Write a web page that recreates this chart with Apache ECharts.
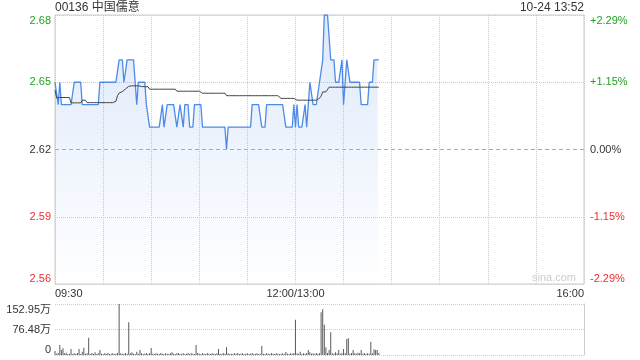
<!DOCTYPE html>
<html><head><meta charset="utf-8">
<script src="https://cdn.jsdelivr.net/npm/echarts@6/dist/echarts.min.js"></script>
<style>html,body{margin:0;padding:0;background:#fff}#c{width:640px;height:360px}</style>
</head><body><div id="c"></div>
<script>
const stockName = '00136 中国儒意';
const stamp = '10-24 13:52';
const watermark = 'sina.com';
const prevClose = 2.62;
const priceMin = 2.56, priceMax = 2.68, priceStep = 0.03;
const sessionMinutes = 330;
const timeLabels = {0: '09:30', 150: '12:00/13:00', 330: '16:00'};
const volMax = 1529500;

// minute prices from 09:30 to 13:52
const price = [
2.65,2.65,2.64,2.65,2.64,2.64,2.64,2.64,2.64,2.64,
2.64,2.64,2.65,2.65,2.65,2.65,2.65,2.64,2.64,2.64,
2.64,2.64,2.64,2.64,2.64,2.64,2.64,2.64,2.65,2.65,
2.65,2.65,2.65,2.65,2.65,2.65,2.65,2.65,2.65,2.65,
2.66,2.66,2.66,2.65,2.65,2.66,2.66,2.66,2.66,2.66,
2.65,2.64,2.65,2.65,2.65,2.65,2.65,2.64,2.64,2.63,
2.63,2.63,2.63,2.63,2.63,2.63,2.63,2.64,2.63,2.63,
2.64,2.64,2.64,2.64,2.64,2.64,2.63,2.63,2.64,2.64,
2.63,2.64,2.64,2.64,2.63,2.63,2.63,2.64,2.64,2.64,
2.64,2.64,2.63,2.63,2.63,2.63,2.63,2.63,2.63,2.63,
2.63,2.63,2.63,2.63,2.63,2.63,2.63,2.62,2.63,2.63,
2.63,2.63,2.63,2.63,2.63,2.63,2.63,2.63,2.63,2.63,
2.63,2.63,2.63,2.64,2.64,2.64,2.64,2.64,2.64,2.63,
2.63,2.63,2.64,2.64,2.64,2.64,2.64,2.64,2.64,2.64,
2.64,2.64,2.64,2.64,2.63,2.63,2.63,2.63,2.63,2.64,
2.63,2.64,2.63,2.63,2.63,2.63,2.64,2.63,2.64,2.65,
2.65,2.64,2.64,2.64,2.64,2.65,2.65,2.66,2.68,2.68,
2.68,2.67,2.66,2.66,2.66,2.65,2.65,2.65,2.65,2.66,
2.64,2.65,2.66,2.66,2.65,2.65,2.65,2.65,2.65,2.65,
2.65,2.64,2.64,2.64,2.64,2.64,2.65,2.65,2.65,2.66,
2.66,2.66,2.66
];

// minute average price
const avgPrice = [
2.6465,2.6430,2.6430,2.6432,2.6432,2.6432,2.6432,2.6432,2.6432,2.6432,
2.6408,2.6408,2.6408,2.6408,2.6408,2.6408,2.6408,2.6420,2.6420,2.6420,
2.6409,2.6409,2.6409,2.6409,2.6409,2.6409,2.6409,2.6409,2.6409,2.6409,
2.6409,2.6409,2.6409,2.6409,2.6409,2.6409,2.6409,2.6409,2.6415,2.6440,
2.6452,2.6455,2.6458,2.6462,2.6470,2.6477,2.6482,2.6484,2.6484,2.6484,
2.6484,2.6484,2.6484,2.6482,2.6481,2.6480,2.6480,2.6480,2.6480,2.6469,
2.6469,2.6469,2.6469,2.6469,2.6469,2.6469,2.6469,2.6469,2.6469,2.6469,
2.6469,2.6469,2.6469,2.6469,2.6469,2.6469,2.6460,2.6460,2.6460,2.6460,
2.6460,2.6460,2.6460,2.6460,2.6460,2.6460,2.6460,2.6460,2.6460,2.6460,
2.6460,2.6460,2.6451,2.6451,2.6451,2.6451,2.6451,2.6451,2.6451,2.6451,
2.6451,2.6451,2.6451,2.6451,2.6451,2.6451,2.6451,2.6440,2.6440,2.6440,
2.6440,2.6440,2.6440,2.6440,2.6440,2.6440,2.6440,2.6440,2.6440,2.6440,
2.6440,2.6440,2.6440,2.6440,2.6440,2.6440,2.6440,2.6440,2.6440,2.6440,
2.6440,2.6440,2.6440,2.6440,2.6440,2.6440,2.6440,2.6440,2.6440,2.6440,
2.6440,2.6428,2.6428,2.6428,2.6428,2.6428,2.6428,2.6428,2.6428,2.6428,
2.6420,2.6420,2.6420,2.6420,2.6420,2.6420,2.6420,2.6420,2.6420,2.6420,
2.6420,2.6420,2.6420,2.6420,2.6420,2.6429,2.6438,2.6457,2.6457,2.6457,
2.6457,2.6478,2.6478,2.6478,2.6478,2.6478,2.6478,2.6478,2.6478,2.6478,
2.6478,2.6478,2.6478,2.6478,2.6478,2.6478,2.6478,2.6478,2.6478,2.6478,
2.6478,2.6478,2.6478,2.6478,2.6478,2.6478,2.6478,2.6478,2.6478,2.6478,
2.6478,2.6478,2.6478
];

// minute volume, in 万 shares
const volumeWan = [
12,4,6,30,15,20,5,7,3,4,
18,3,5,4,6,18,3,10,22,4,
5,52,3,6,4,8,3,5,15,4,
3,5,4,6,3,4,5,3,4,6,
152.95,5,4,3,6,4,98,5,8,4,
3,10,4,15,5,3,4,6,3,5,
21,4,3,5,4,3,6,4,3,5,
4,3,5,8,4,3,5,6,3,4,
5,3,4,6,3,5,4,3,30,6,
4,3,5,4,3,6,4,3,5,4,
3,5,18,4,3,6,4,23,5,3,
4,3,5,4,6,3,4,5,3,4,
5,3,4,6,3,4,5,3,4,27,
4,3,5,4,3,6,4,3,5,4,
3,4,5,3,9,4,3,5,4,6,
106,5,4,10,3,5,4,6,15,8,
4,5,3,6,4,5,128,137,91,23,
6,15,68,5,4,8,5,15,4,6,
18,5,48,50,4,6,15,5,4,7,
5,15,4,6,3,5,4,40,5,17,
15,15,6
];

const FONT = "'Liberation Sans', 'Noto Sans CJK SC', sans-serif";
const GREEN = '#22a322', RED = '#ef2d2d', DARK = '#333';
function priceColor(v) {
  const d = Number(v) - prevClose;
  if (d > 1e-6) return GREEN;
  if (d < -1e-6) return RED;
  return DARK;
}

const chart = echarts.init(document.getElementById('c'), null, {renderer: 'canvas'});
chart.setOption({
  animation: false,
  textStyle: {fontFamily: FONT},
  title: [
    {text: stockName, left: 55, top: 2, padding: 0,
     textStyle: {fontSize: 12, fontWeight: 'normal', color: DARK, fontFamily: FONT}},
    {text: stamp, right: 56, top: 2, padding: 0,
     textStyle: {fontSize: 12, fontWeight: 'normal', color: DARK, fontFamily: FONT}}
  ],
  graphic: [
    {type: 'text', left: 532, top: 272, silent: true,
     style: {text: watermark, fill: '#cccccc', font: "11px 'Liberation Sans', sans-serif"}}
  ],
  grid: [
    {left: 55, right: 56, top: 15, height: 269, show: true, borderColor: '#cccccc', borderWidth: 1},
    {left: 55, right: 56, top: 304, height: 51}
  ],
  xAxis: [
    {type: 'value', gridIndex: 0, min: 0, max: sessionMinutes, interval: 30,
     axisLine: {show: false}, axisTick: {show: false},
     splitLine: {show: true, lineStyle: {color: '#cccccc', type: 'dotted'}},
     axisLabel: {formatter: v => timeLabels[v] || '', margin: 4, fontSize: 11, color: DARK,
       fontFamily: FONT, showMinLabel: true, showMaxLabel: true,
       alignMinLabel: 'left', alignMaxLabel: 'right'}},
    {type: 'value', gridIndex: 1, min: 0, max: sessionMinutes, interval: 30,
     axisLine: {show: false}, axisTick: {show: false}, splitLine: {show: false},
     axisLabel: {show: false}}
  ],
  yAxis: [
    {type: 'value', gridIndex: 0, position: 'left', min: priceMin, max: priceMax, interval: priceStep,
     axisLine: {show: false}, axisTick: {show: false},
     splitLine: {show: true, lineStyle: {color: ['#cccccc', '#cccccc', 'rgba(0,0,0,0)', '#cccccc', '#cccccc'], type: 'dotted'}},
     axisLabel: {formatter: v => v.toFixed(2), color: v => priceColor(v), fontSize: 11, margin: 4,
       fontFamily: FONT, verticalAlignMaxLabel: 'top', verticalAlignMinLabel: 'bottom'}},
    {type: 'value', gridIndex: 0, position: 'right', min: priceMin, max: priceMax, interval: priceStep,
     axisLine: {show: false}, axisTick: {show: false}, splitLine: {show: false},
     axisLabel: {formatter: v => {
         const p = (v / prevClose - 1) * 100;
         const s = Math.abs(p).toFixed(2);
         return (p > 1e-6 ? '+' : (p < -1e-6 ? '-' : '')) + s + '%';
       }, color: v => priceColor(v), fontSize: 11, margin: 6,
       fontFamily: FONT, verticalAlignMaxLabel: 'top', verticalAlignMinLabel: 'bottom'}},
    {type: 'value', gridIndex: 1, position: 'left', min: 0, max: volMax, interval: volMax / 2,
     axisLine: {show: false}, axisTick: {show: false},
     splitLine: {show: true, lineStyle: {color: '#cccccc', type: 'dotted'}},
     axisLabel: {formatter: v => v === 0 ? '0' : (Math.round(v / 100) / 100).toFixed(2) + '万',
       color: DARK, fontSize: 11, margin: 4, fontFamily: FONT,
       verticalAlignMaxLabel: 'top', verticalAlignMinLabel: 'bottom'}},
    {type: 'value', gridIndex: 1, position: 'right', min: 0, max: volMax, interval: volMax / 2,
     axisLine: {show: true, lineStyle: {color: '#cccccc'}}, axisTick: {show: false},
     splitLine: {show: false}, axisLabel: {show: false}}
  ],
  series: [
    {type: 'line', xAxisIndex: 0, yAxisIndex: 0, data: price.map((p, i) => [i, p]),
     showSymbol: false, symbol: 'none', silent: true,
     lineStyle: {color: '#4e8be8', width: 1.3},
     areaStyle: {origin: 'start', color: new echarts.graphic.LinearGradient(0, 0, 0, 1, [
       {offset: 0, color: 'rgba(74,134,232,0.26)'},
       {offset: 1, color: 'rgba(74,134,232,0.0)'}])},
     markLine: {symbol: 'none', silent: true, label: {show: false},
       lineStyle: {color: '#aaaaaa', type: [4, 3], width: 1},
       data: [{yAxis: prevClose}]}},
    {type: 'line', xAxisIndex: 0, yAxisIndex: 0, data: avgPrice.map((p, i) => [i, p]),
     showSymbol: false, symbol: 'none', silent: true,
     lineStyle: {color: '#444444', width: 1}},
    {type: 'bar', xAxisIndex: 1, yAxisIndex: 2, data: volumeWan.map((v, i) => [i, Math.round(v * 10000)]),
     barWidth: 1, silent: true, itemStyle: {color: '#5a5a5a'}}
  ]
});
</script>
</body></html>
